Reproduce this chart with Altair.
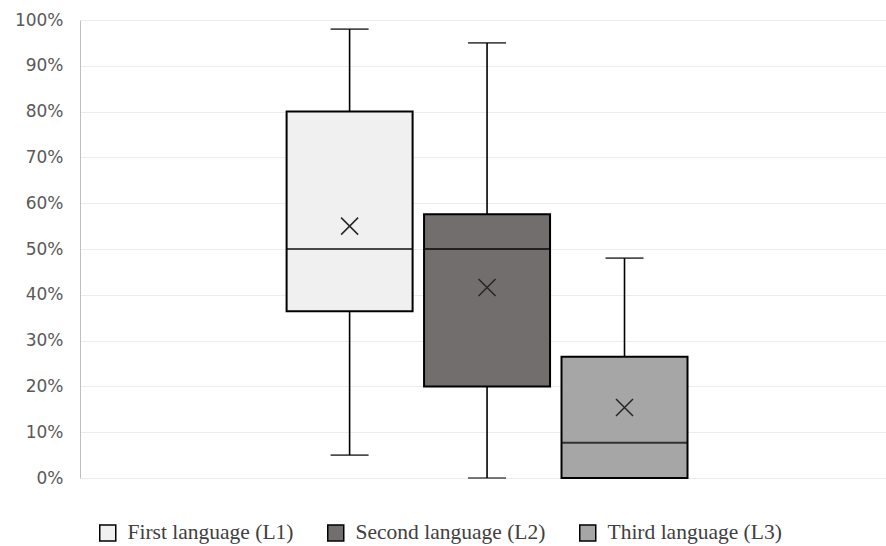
import altair as alt
import pandas as pd

series = ["First language (L1)", "Second language (L2)", "Third language (L3)"]
positions = [1, 2, 3]
mins = [0.05, 0.00, 0.00]
q1s = [0.364, 0.20, 0.00]
medians = [0.50, 0.50, 0.077]
q3s = [0.80, 0.576, 0.265]
maxs = [0.98, 0.95, 0.48]
means = [0.55, 0.416, 0.154]
colors = ["#f0f0f0", "#736e6e", "#a6a6a6"]

df = pd.DataFrame({
    "series": series, "pos": positions, "min": mins, "q1": q1s,
    "median": medians, "q3": q3s, "max": maxs, "mean": means,
})

x = alt.X("pos:Q", scale=alt.Scale(domain=[-0.925, 4.866], nice=False, zero=False), axis=None)
yscale = alt.Scale(domain=[0, 1], nice=False)
yaxis = alt.Axis(format=".0%", values=[i / 10 for i in range(11)], title=None,
                 grid=True, gridColor="#ececec", gridWidth=1,
                 domainColor="#bfbfbf", domainWidth=1, ticks=False,
                 labelFont="DejaVu Sans", labelFontSize=17, labelColor="#595959",
                 labelPadding=17)

base = alt.Chart(df)

whisker = base.mark_rule(color="black", strokeWidth=1.6).encode(
    x=x, y=alt.Y("min:Q", scale=yscale, axis=yaxis), y2="max:Q")

caps_top = base.mark_tick(orient="horizontal", size=38, thickness=1.6, color="black").encode(
    x=x, y=alt.Y("max:Q", scale=yscale))
caps_bot = base.mark_tick(orient="horizontal", size=38, thickness=1.6, color="black").encode(
    x=x, y=alt.Y("min:Q", scale=yscale))

box = base.mark_bar(size=126, stroke="black", strokeWidth=2).encode(
    x=x, y=alt.Y("q1:Q", scale=yscale), y2="q3:Q",
    fill=alt.Fill("series:N", scale=alt.Scale(domain=series, range=colors),
                  legend=alt.Legend(title=None, orient="none", direction="horizontal",
                                    legendX=17, legendY=502, symbolType="square",
                                    symbolSize=256, symbolStrokeColor="black",
                                    symbolStrokeWidth=1.5, labelFont="Liberation Serif",
                                    labelFontSize=21.5, labelColor="#404040",
                                    labelOffset=9, columnPadding=30, padding=0,
                                    labelLimit=400)))

median = base.mark_tick(orient="horizontal", size=126, thickness=2.2, color="black").encode(
    x=x, y=alt.Y("median:Q", scale=yscale))

mean = base.mark_point(shape="M-1,-1L1,1M-1,1L1,-1", size=289, filled=False,
                       color="#262626", strokeWidth=1.5, opacity=1).encode(
    x=x, y=alt.Y("mean:Q", scale=yscale))

chart = alt.layer(whisker, caps_top, caps_bot, box, median, mean).properties(
    width=806, height=458,
    autosize=alt.AutoSizeParams(type="none"),
    padding={"left": 80, "top": 20, "right": 0, "bottom": 68},
    background="white",
).configure_view(stroke=None)

chart.save("out.html", embed_options={"renderer": "svg", "actions": False})
